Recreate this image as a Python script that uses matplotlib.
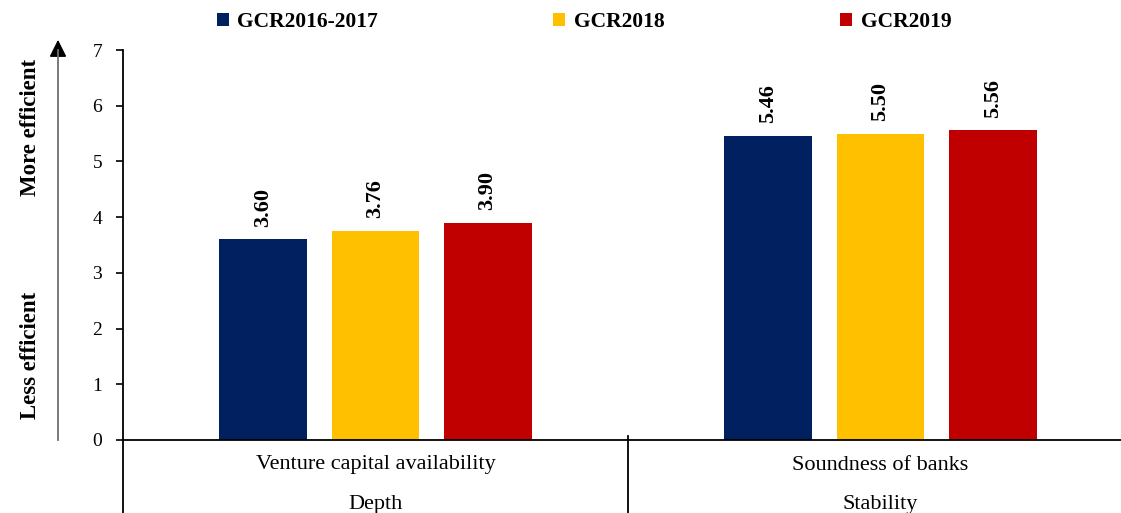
import numpy as np
import matplotlib.pyplot as plt

plt.rcParams['font.family'] = ['Liberation Serif', 'DejaVu Serif']

categories = ["Venture capital availability", "Soundness of banks"]
groups = ["Depth", "Stability"]
series = ["GCR2016-2017", "GCR2018", "GCR2019"]
values = {
    "GCR2016-2017": [3.60, 5.46],
    "GCR2018": [3.76, 5.50],
    "GCR2019": [3.90, 5.56],
}
colors = ["#002060", "#FFC000", "#C00000"]

W, H = 1121, 513
fig = plt.figure(figsize=(W / 100, H / 100), dpi=100)
ax = fig.add_axes([123 / W, 73 / H, 1010 / W, 390 / H])

x = np.arange(len(categories))
bw = 0.174
step = 0.222
for i, s in enumerate(series):
    pos = x + (i - 1) * step
    bars = ax.bar(pos, values[s], width=bw, color=colors[i], label=s, zorder=2)
    for b, v in zip(bars, values[s]):
        ax.annotate(f"{v:.2f}", (b.get_x() + b.get_width() / 2, v),
                    xytext=(0, 9), textcoords="offset points",
                    rotation=90, ha="center", va="bottom",
                    fontsize=16, fontweight="bold")

ax.set_xlim(-0.5, 1.5)
ax.set_ylim(0, 7)
ax.set_yticks(range(0, 8))
ax.tick_params(axis='y', labelsize=14, length=5, width=1.2, direction='out', pad=10)
ax.set_xticks([])
for side in ["top", "right"]:
    ax.spines[side].set_visible(False)
ax.spines["left"].set_linewidth(1.3)
ax.spines["bottom"].set_linewidth(1.3)

# lines under the axis: left edge and group separator
trans = ax.get_xaxis_transform()
ax.plot([-0.5, -0.5], [0, -0.2], transform=trans, color="black", lw=1.3, clip_on=False)
ax.plot([0.5, 0.5], [0.01, -0.2], transform=trans, color="black", lw=1.3, clip_on=False)

for xi, c, g in zip(x, categories, groups):
    ax.text(xi, -25 / 390, c, transform=trans, ha="center", va="center", fontsize=16)
    ax.text(xi, -64 / 390, g, transform=trans, ha="center", va="center", fontsize=16)

# efficiency arrow
fig.add_artist(plt.Line2D([58 / W, 58 / W], [(H - 440) / H, (H - 50) / H],
                          transform=fig.transFigure, color="#707070", lw=1.3))
ax.annotate("", xy=(58 / W, (H - 37) / H), xytext=(58 / W, (H - 55) / H),
            xycoords="figure fraction", textcoords="figure fraction",
            arrowprops=dict(arrowstyle="-|>", color="black", lw=1.2, mutation_scale=26))
fig.text(30 / W, (H - 127) / H, "More efficient", rotation=90, ha="center", va="center",
         fontsize=16.5, fontweight="bold")
fig.text(30 / W, (H - 355) / H, "Less efficient", rotation=90, ha="center", va="center",
         fontsize=16.5, fontweight="bold")

leg = fig.legend(loc="center", bbox_to_anchor=(584 / W, (H - 22) / H), ncol=3, frameon=False,
                 prop={"weight": "bold", "size": 15.5}, handlelength=0.55, handleheight=0.55,
                 handletextpad=0.4, columnspacing=8.15)

fig.savefig("out.png", dpi=100)
